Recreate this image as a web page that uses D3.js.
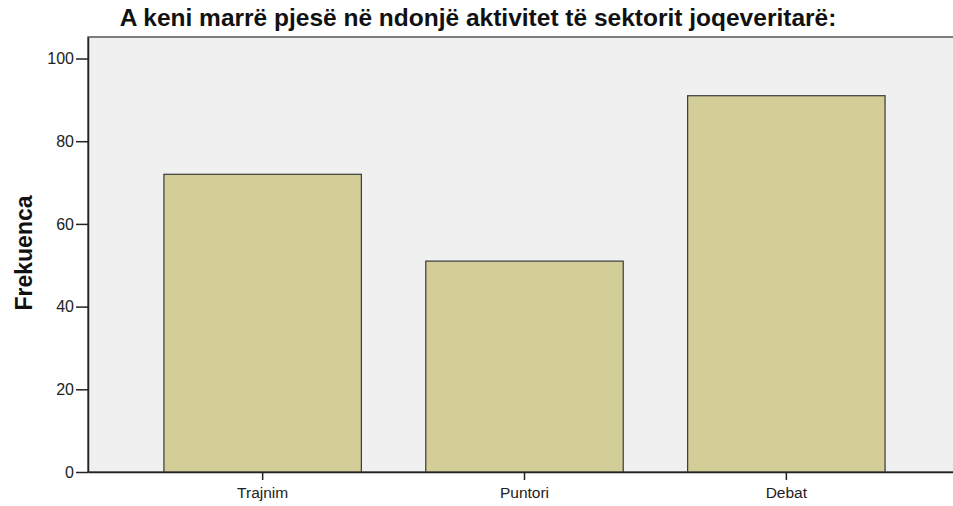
<!DOCTYPE html>
<html>
<head>
<meta charset="utf-8">
<script src="https://cdn.jsdelivr.net/npm/d3@7/dist/d3.min.js"></script>
<style>
  body { margin: 0; background: #fff; }
  svg { display: block; font-family: "Liberation Sans", Arial, sans-serif; }
</style>
</head>
<body>
<svg width="953" height="506"></svg>
<script>
var categories = ['Trajnim', 'Puntori', 'Debat'];
var values = [72, 51, 91];
var yTicks = [0, 20, 40, 60, 80, 100];

var svg = d3.select('svg');
var plotLeft = 88, plotTop = 37, plotRight = 961, plotBottom = 472;

var x = d3.scaleBand().domain(categories).range([plotLeft, plotRight])
  .paddingInner(0.246).paddingOuter(0.29);
var y = d3.scaleLinear().domain([0, 105.2]).range([plotBottom, plotTop]);

// plot background
svg.append('rect')
  .attr('x', plotLeft).attr('y', plotTop)
  .attr('width', plotRight - plotLeft).attr('height', plotBottom - plotTop)
  .attr('fill', '#f0f0f0')
  .attr('stroke', '#555').attr('stroke-width', 1.5);

// bars
svg.selectAll('rect.bar').data(values)
  .enter().append('rect')
    .attr('class', 'bar')
    .attr('x', function (d, i) { return x(categories[i]); })
    .attr('y', function (d) { return y(d); })
    .attr('width', x.bandwidth())
    .attr('height', function (d) { return plotBottom - y(d); })
    .attr('fill', '#d3ce97')
    .attr('stroke', '#3a3a3a').attr('stroke-width', 1.2);

// y axis
var yAxis = svg.append('g')
  .attr('transform', 'translate(' + plotLeft + ',0)')
  .call(d3.axisLeft(y).tickValues(yTicks).tickSize(12).tickPadding(2).tickSizeOuter(0));
yAxis.select('.domain').attr('stroke', '#222').attr('stroke-width', 1.5);
yAxis.selectAll('.tick line').attr('stroke', '#222').attr('stroke-width', 1.5);
yAxis.selectAll('.tick text').attr('font-size', 16).attr('fill', '#222')
  .attr('font-family', '"Liberation Sans", Arial, sans-serif');

// x axis
var xAxis = svg.append('g')
  .attr('transform', 'translate(0,' + plotBottom + ')')
  .call(d3.axisBottom(x).tickSize(8).tickPadding(7).tickSizeOuter(0));
xAxis.select('.domain').attr('stroke', '#222').attr('stroke-width', 1.5);
xAxis.selectAll('.tick line').attr('stroke', '#222').attr('stroke-width', 1.5);
xAxis.selectAll('.tick text').attr('font-size', 15.5).attr('fill', '#222')
  .attr('font-family', '"Liberation Sans", Arial, sans-serif');

// title
svg.append('text')
  .attr('x', 478).attr('y', 26)
  .attr('text-anchor', 'middle')
  .attr('font-size', 24.5).attr('font-weight', 'bold').attr('fill', '#111')
  .text('A keni marrë pjesë në ndonjë aktivitet të sektorit joqeveritarë:');

// y label
svg.append('text')
  .attr('transform', 'translate(32,' + 253 + ') rotate(-90)')
  .attr('text-anchor', 'middle')
  .attr('font-size', 23).attr('font-weight', 'bold').attr('fill', '#111')
  .text('Frekuenca');
</script>
</body>
</html>
